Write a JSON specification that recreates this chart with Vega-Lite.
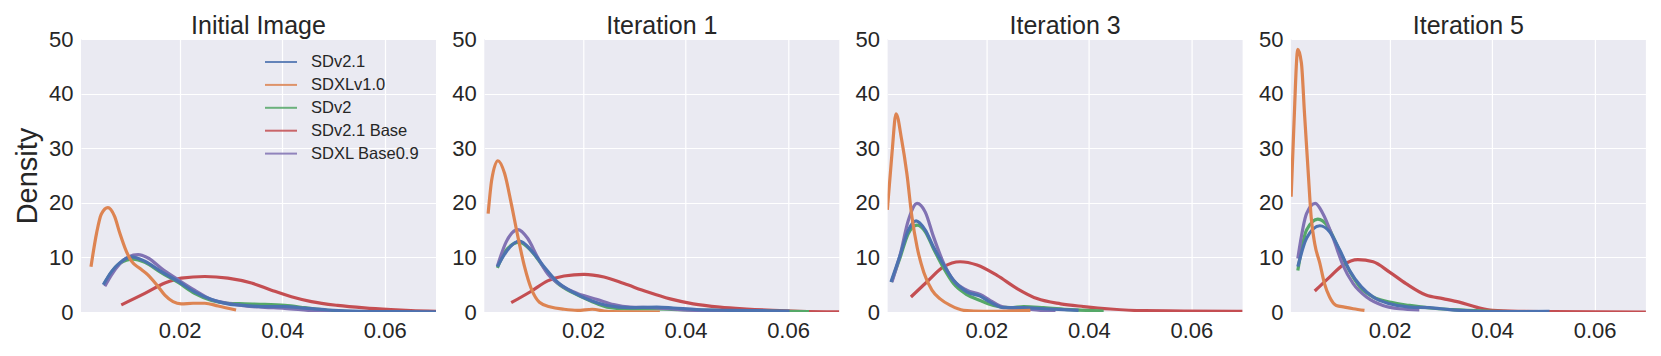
{
"$schema":"https://vega.github.io/schema/vega-lite/v6.json",
"padding":{"left":13,"top":13,"right":0,"bottom":0},
"bounds":"flush",
"spacing":48.3,
"background":"white",
"data":{"values":[
{"p":"Initial Image","s":"SDv2.1 Base","x":0.0086,"y":1.3},{"p":"Initial Image","s":"SDv2.1 Base","x":0.0132,"y":3.4},{"p":"Initial Image","s":"SDv2.1 Base","x":0.0171,"y":5.3},{"p":"Initial Image","s":"SDv2.1 Base","x":0.0203,"y":6.2},{"p":"Initial Image","s":"SDv2.1 Base","x":0.0249,"y":6.5},{"p":"Initial Image","s":"SDv2.1 Base","x":0.0294,"y":6.2},{"p":"Initial Image","s":"SDv2.1 Base","x":0.034,"y":5.3},{"p":"Initial Image","s":"SDv2.1 Base","x":0.0379,"y":4.0},{"p":"Initial Image","s":"SDv2.1 Base","x":0.0418,"y":2.8},{"p":"Initial Image","s":"SDv2.1 Base","x":0.0457,"y":1.9},{"p":"Initial Image","s":"SDv2.1 Base","x":0.0508,"y":1.2},{"p":"Initial Image","s":"SDv2.1 Base","x":0.056,"y":0.74},{"p":"Initial Image","s":"SDv2.1 Base","x":0.0612,"y":0.43},{"p":"Initial Image","s":"SDv2.1 Base","x":0.0651,"y":0.25},{"p":"Initial Image","s":"SDv2.1 Base","x":0.07,"y":0.12},
{"p":"Initial Image","s":"SDv2","x":0.0053,"y":5.2},{"p":"Initial Image","s":"SDv2","x":0.0067,"y":7.3},{"p":"Initial Image","s":"SDv2","x":0.0083,"y":8.9},{"p":"Initial Image","s":"SDv2","x":0.0109,"y":9.7},{"p":"Initial Image","s":"SDv2","x":0.0132,"y":9.1},{"p":"Initial Image","s":"SDv2","x":0.0164,"y":7.2},{"p":"Initial Image","s":"SDv2","x":0.0197,"y":5.4},{"p":"Initial Image","s":"SDv2","x":0.0229,"y":3.4},{"p":"Initial Image","s":"SDv2","x":0.0262,"y":2.1},{"p":"Initial Image","s":"SDv2","x":0.0294,"y":1.6},{"p":"Initial Image","s":"SDv2","x":0.0327,"y":1.5},{"p":"Initial Image","s":"SDv2","x":0.0366,"y":1.4},{"p":"Initial Image","s":"SDv2","x":0.0405,"y":1.2},{"p":"Initial Image","s":"SDv2","x":0.0444,"y":0.8},{"p":"Initial Image","s":"SDv2","x":0.0483,"y":0.37},{"p":"Initial Image","s":"SDv2","x":0.0523,"y":0.12},{"p":"Initial Image","s":"SDv2","x":0.058,"y":0.03},
{"p":"Initial Image","s":"SDXL Base0.9","x":0.0054,"y":4.7},{"p":"Initial Image","s":"SDXL Base0.9","x":0.0067,"y":6.8},{"p":"Initial Image","s":"SDXL Base0.9","x":0.0083,"y":8.8},{"p":"Initial Image","s":"SDXL Base0.9","x":0.01,"y":10.1},{"p":"Initial Image","s":"SDXL Base0.9","x":0.0119,"y":10.5},{"p":"Initial Image","s":"SDXL Base0.9","x":0.014,"y":9.8},{"p":"Initial Image","s":"SDXL Base0.9","x":0.0164,"y":8.0},{"p":"Initial Image","s":"SDXL Base0.9","x":0.0197,"y":5.9},{"p":"Initial Image","s":"SDXL Base0.9","x":0.0229,"y":4.0},{"p":"Initial Image","s":"SDXL Base0.9","x":0.0262,"y":2.3},{"p":"Initial Image","s":"SDXL Base0.9","x":0.0294,"y":1.6},{"p":"Initial Image","s":"SDXL Base0.9","x":0.0327,"y":1.1},{"p":"Initial Image","s":"SDXL Base0.9","x":0.0366,"y":0.86},{"p":"Initial Image","s":"SDXL Base0.9","x":0.0405,"y":0.67},{"p":"Initial Image","s":"SDXL Base0.9","x":0.0457,"y":0.25},{"p":"Initial Image","s":"SDXL Base0.9","x":0.0496,"y":0.06},
{"p":"Initial Image","s":"SDv2.1","x":0.0051,"y":5.0},{"p":"Initial Image","s":"SDv2.1","x":0.0067,"y":7.4},{"p":"Initial Image","s":"SDv2.1","x":0.0083,"y":9.0},{"p":"Initial Image","s":"SDv2.1","x":0.0106,"y":10.1},{"p":"Initial Image","s":"SDv2.1","x":0.0132,"y":9.3},{"p":"Initial Image","s":"SDv2.1","x":0.0164,"y":7.4},{"p":"Initial Image","s":"SDv2.1","x":0.0197,"y":5.6},{"p":"Initial Image","s":"SDv2.1","x":0.0229,"y":3.7},{"p":"Initial Image","s":"SDv2.1","x":0.0262,"y":2.3},{"p":"Initial Image","s":"SDv2.1","x":0.0294,"y":1.5},{"p":"Initial Image","s":"SDv2.1","x":0.0327,"y":1.2},{"p":"Initial Image","s":"SDv2.1","x":0.0359,"y":1.0},{"p":"Initial Image","s":"SDv2.1","x":0.0405,"y":1.0},{"p":"Initial Image","s":"SDv2.1","x":0.0444,"y":0.7},{"p":"Initial Image","s":"SDv2.1","x":0.0489,"y":0.37},{"p":"Initial Image","s":"SDv2.1","x":0.0554,"y":0.12},{"p":"Initial Image","s":"SDv2.1","x":0.0619,"y":0.06},{"p":"Initial Image","s":"SDv2.1","x":0.07,"y":0.02},
{"p":"Initial Image","s":"SDXLv1.0","x":0.0027,"y":8.3},{"p":"Initial Image","s":"SDXLv1.0","x":0.0038,"y":14.5},{"p":"Initial Image","s":"SDXLv1.0","x":0.0047,"y":17.9},{"p":"Initial Image","s":"SDXLv1.0","x":0.006,"y":19.1},{"p":"Initial Image","s":"SDXLv1.0","x":0.0073,"y":17.5},{"p":"Initial Image","s":"SDXLv1.0","x":0.0083,"y":14.5},{"p":"Initial Image","s":"SDXLv1.0","x":0.0096,"y":11.1},{"p":"Initial Image","s":"SDXLv1.0","x":0.0106,"y":9.3},{"p":"Initial Image","s":"SDXLv1.0","x":0.0122,"y":8.0},{"p":"Initial Image","s":"SDXLv1.0","x":0.0138,"y":6.8},{"p":"Initial Image","s":"SDXLv1.0","x":0.0155,"y":5.0},{"p":"Initial Image","s":"SDXLv1.0","x":0.0171,"y":3.1},{"p":"Initial Image","s":"SDXLv1.0","x":0.0187,"y":1.9},{"p":"Initial Image","s":"SDXLv1.0","x":0.0203,"y":1.5},{"p":"Initial Image","s":"SDXLv1.0","x":0.0226,"y":1.6},{"p":"Initial Image","s":"SDXLv1.0","x":0.0249,"y":1.6},{"p":"Initial Image","s":"SDXLv1.0","x":0.0275,"y":1.1},{"p":"Initial Image","s":"SDXLv1.0","x":0.031,"y":0.37},

{"p":"Iteration 1","s":"SDv2.1 Base","x":0.006,"y":1.7},{"p":"Iteration 1","s":"SDv2.1 Base","x":0.0099,"y":3.8},{"p":"Iteration 1","s":"SDv2.1 Base","x":0.0131,"y":5.7},{"p":"Iteration 1","s":"SDv2.1 Base","x":0.0163,"y":6.6},{"p":"Iteration 1","s":"SDv2.1 Base","x":0.0202,"y":6.9},{"p":"Iteration 1","s":"SDv2.1 Base","x":0.0241,"y":6.4},{"p":"Iteration 1","s":"SDv2.1 Base","x":0.028,"y":5.2},{"p":"Iteration 1","s":"SDv2.1 Base","x":0.0325,"y":3.7},{"p":"Iteration 1","s":"SDv2.1 Base","x":0.037,"y":2.4},{"p":"Iteration 1","s":"SDv2.1 Base","x":0.0415,"y":1.5},{"p":"Iteration 1","s":"SDv2.1 Base","x":0.0467,"y":0.9},{"p":"Iteration 1","s":"SDv2.1 Base","x":0.0519,"y":0.55},{"p":"Iteration 1","s":"SDv2.1 Base","x":0.057,"y":0.3},{"p":"Iteration 1","s":"SDv2.1 Base","x":0.0622,"y":0.12},{"p":"Iteration 1","s":"SDv2.1 Base","x":0.07,"y":0.02},
{"p":"Iteration 1","s":"SDv2","x":0.0033,"y":8.1},{"p":"Iteration 1","s":"SDv2","x":0.005,"y":11.3},{"p":"Iteration 1","s":"SDv2","x":0.0076,"y":12.8},{"p":"Iteration 1","s":"SDv2","x":0.0099,"y":11.2},{"p":"Iteration 1","s":"SDv2","x":0.0124,"y":8.1},{"p":"Iteration 1","s":"SDv2","x":0.015,"y":5.3},{"p":"Iteration 1","s":"SDv2","x":0.0183,"y":3.4},{"p":"Iteration 1","s":"SDv2","x":0.0215,"y":2.0},{"p":"Iteration 1","s":"SDv2","x":0.0247,"y":0.9},{"p":"Iteration 1","s":"SDv2","x":0.0292,"y":0.55},{"p":"Iteration 1","s":"SDv2","x":0.0344,"y":0.55},{"p":"Iteration 1","s":"SDv2","x":0.039,"y":0.43},{"p":"Iteration 1","s":"SDv2","x":0.0454,"y":0.3},{"p":"Iteration 1","s":"SDv2","x":0.0519,"y":0.18},{"p":"Iteration 1","s":"SDv2","x":0.0583,"y":0.12},{"p":"Iteration 1","s":"SDv2","x":0.0641,"y":0.06},
{"p":"Iteration 1","s":"SDXL Base0.9","x":0.0033,"y":8.4},{"p":"Iteration 1","s":"SDXL Base0.9","x":0.005,"y":12.8},{"p":"Iteration 1","s":"SDXL Base0.9","x":0.0073,"y":15.1},{"p":"Iteration 1","s":"SDXL Base0.9","x":0.0092,"y":13.5},{"p":"Iteration 1","s":"SDXL Base0.9","x":0.0111,"y":10.1},{"p":"Iteration 1","s":"SDXL Base0.9","x":0.0131,"y":7.0},{"p":"Iteration 1","s":"SDXL Base0.9","x":0.0157,"y":4.9},{"p":"Iteration 1","s":"SDXL Base0.9","x":0.0189,"y":3.4},{"p":"Iteration 1","s":"SDXL Base0.9","x":0.0228,"y":2.3},{"p":"Iteration 1","s":"SDXL Base0.9","x":0.026,"y":1.35},{"p":"Iteration 1","s":"SDXL Base0.9","x":0.0292,"y":0.9},{"p":"Iteration 1","s":"SDXL Base0.9","x":0.0338,"y":0.8},{"p":"Iteration 1","s":"SDXL Base0.9","x":0.0389,"y":0.43},{"p":"Iteration 1","s":"SDXL Base0.9","x":0.0454,"y":0.18},{"p":"Iteration 1","s":"SDXL Base0.9","x":0.0519,"y":0.06},
{"p":"Iteration 1","s":"SDv2.1","x":0.0033,"y":8.3},{"p":"Iteration 1","s":"SDv2.1","x":0.005,"y":11.0},{"p":"Iteration 1","s":"SDv2.1","x":0.0076,"y":13.0},{"p":"Iteration 1","s":"SDv2.1","x":0.0099,"y":11.3},{"p":"Iteration 1","s":"SDv2.1","x":0.0124,"y":8.3},{"p":"Iteration 1","s":"SDv2.1","x":0.015,"y":5.5},{"p":"Iteration 1","s":"SDv2.1","x":0.0183,"y":3.5},{"p":"Iteration 1","s":"SDv2.1","x":0.0215,"y":2.1},{"p":"Iteration 1","s":"SDv2.1","x":0.0247,"y":1.2},{"p":"Iteration 1","s":"SDv2.1","x":0.0292,"y":0.8},{"p":"Iteration 1","s":"SDv2.1","x":0.0344,"y":0.9},{"p":"Iteration 1","s":"SDv2.1","x":0.0376,"y":0.73},{"p":"Iteration 1","s":"SDv2.1","x":0.0422,"y":0.43},{"p":"Iteration 1","s":"SDv2.1","x":0.0486,"y":0.3},{"p":"Iteration 1","s":"SDv2.1","x":0.0551,"y":0.24},{"p":"Iteration 1","s":"SDv2.1","x":0.0603,"y":0.18},
{"p":"Iteration 1","s":"SDXLv1.0","x":0.0015,"y":18.0},{"p":"Iteration 1","s":"SDXLv1.0","x":0.0022,"y":24.2},{"p":"Iteration 1","s":"SDXLv1.0","x":0.0034,"y":27.7},{"p":"Iteration 1","s":"SDXLv1.0","x":0.0047,"y":25.4},{"p":"Iteration 1","s":"SDXLv1.0","x":0.006,"y":19.9},{"p":"Iteration 1","s":"SDXLv1.0","x":0.0073,"y":13.8},{"p":"Iteration 1","s":"SDXLv1.0","x":0.0086,"y":8.3},{"p":"Iteration 1","s":"SDXLv1.0","x":0.0099,"y":4.3},{"p":"Iteration 1","s":"SDXLv1.0","x":0.0115,"y":1.8},{"p":"Iteration 1","s":"SDXLv1.0","x":0.0137,"y":0.9},{"p":"Iteration 1","s":"SDXLv1.0","x":0.0163,"y":0.5},{"p":"Iteration 1","s":"SDXLv1.0","x":0.0189,"y":0.3},{"p":"Iteration 1","s":"SDXLv1.0","x":0.0218,"y":0.5},{"p":"Iteration 1","s":"SDXLv1.0","x":0.0247,"y":0.12},{"p":"Iteration 1","s":"SDXLv1.0","x":0.0292,"y":0.02},{"p":"Iteration 1","s":"SDXLv1.0","x":0.035,"y":0.0},

{"p":"Iteration 3","s":"SDv2.1 Base","x":0.0053,"y":2.75},{"p":"Iteration 3","s":"SDv2.1 Base","x":0.0084,"y":5.5},{"p":"Iteration 3","s":"SDv2.1 Base","x":0.0117,"y":8.3},{"p":"Iteration 3","s":"SDv2.1 Base","x":0.0149,"y":9.2},{"p":"Iteration 3","s":"SDv2.1 Base","x":0.0182,"y":8.6},{"p":"Iteration 3","s":"SDv2.1 Base","x":0.0221,"y":6.7},{"p":"Iteration 3","s":"SDv2.1 Base","x":0.026,"y":4.3},{"p":"Iteration 3","s":"SDv2.1 Base","x":0.0299,"y":2.45},{"p":"Iteration 3","s":"SDv2.1 Base","x":0.0345,"y":1.5},{"p":"Iteration 3","s":"SDv2.1 Base","x":0.039,"y":1.0},{"p":"Iteration 3","s":"SDv2.1 Base","x":0.0442,"y":0.55},{"p":"Iteration 3","s":"SDv2.1 Base","x":0.0508,"y":0.24},{"p":"Iteration 3","s":"SDv2.1 Base","x":0.0586,"y":0.18},{"p":"Iteration 3","s":"SDv2.1 Base","x":0.07,"y":0.12},
{"p":"Iteration 3","s":"SDv2","x":0.0015,"y":5.5},{"p":"Iteration 3","s":"SDv2","x":0.0032,"y":10.0},{"p":"Iteration 3","s":"SDv2","x":0.0048,"y":14.4},{"p":"Iteration 3","s":"SDv2","x":0.0065,"y":15.9},{"p":"Iteration 3","s":"SDv2","x":0.0081,"y":14.7},{"p":"Iteration 3","s":"SDv2","x":0.0097,"y":11.6},{"p":"Iteration 3","s":"SDv2","x":0.0117,"y":8.0},{"p":"Iteration 3","s":"SDv2","x":0.0136,"y":5.2},{"p":"Iteration 3","s":"SDv2","x":0.0162,"y":3.2},{"p":"Iteration 3","s":"SDv2","x":0.0188,"y":2.1},{"p":"Iteration 3","s":"SDv2","x":0.0214,"y":1.2},{"p":"Iteration 3","s":"SDv2","x":0.0247,"y":0.8},{"p":"Iteration 3","s":"SDv2","x":0.0273,"y":1.0},{"p":"Iteration 3","s":"SDv2","x":0.0312,"y":0.8},{"p":"Iteration 3","s":"SDv2","x":0.0364,"y":0.43},{"p":"Iteration 3","s":"SDv2","x":0.0429,"y":0.18},
{"p":"Iteration 3","s":"SDXL Base0.9","x":0.0016,"y":5.5},{"p":"Iteration 3","s":"SDXL Base0.9","x":0.0032,"y":10.5},{"p":"Iteration 3","s":"SDXL Base0.9","x":0.0048,"y":16.8},{"p":"Iteration 3","s":"SDXL Base0.9","x":0.0065,"y":19.9},{"p":"Iteration 3","s":"SDXL Base0.9","x":0.0081,"y":18.3},{"p":"Iteration 3","s":"SDXL Base0.9","x":0.0097,"y":13.8},{"p":"Iteration 3","s":"SDXL Base0.9","x":0.0117,"y":8.9},{"p":"Iteration 3","s":"SDXL Base0.9","x":0.0136,"y":5.8},{"p":"Iteration 3","s":"SDXL Base0.9","x":0.0162,"y":4.0},{"p":"Iteration 3","s":"SDXL Base0.9","x":0.0188,"y":3.2},{"p":"Iteration 3","s":"SDXL Base0.9","x":0.0208,"y":2.1},{"p":"Iteration 3","s":"SDXL Base0.9","x":0.0234,"y":0.9},{"p":"Iteration 3","s":"SDXL Base0.9","x":0.0273,"y":0.6},{"p":"Iteration 3","s":"SDXL Base0.9","x":0.0306,"y":0.3},{"p":"Iteration 3","s":"SDXL Base0.9","x":0.0335,"y":0.1},
{"p":"Iteration 3","s":"SDv2.1","x":0.0014,"y":5.5},{"p":"Iteration 3","s":"SDv2.1","x":0.0032,"y":10.4},{"p":"Iteration 3","s":"SDv2.1","x":0.0048,"y":15.0},{"p":"Iteration 3","s":"SDv2.1","x":0.0063,"y":16.7},{"p":"Iteration 3","s":"SDv2.1","x":0.0081,"y":15.0},{"p":"Iteration 3","s":"SDv2.1","x":0.0097,"y":11.9},{"p":"Iteration 3","s":"SDv2.1","x":0.0117,"y":8.6},{"p":"Iteration 3","s":"SDv2.1","x":0.0136,"y":5.8},{"p":"Iteration 3","s":"SDv2.1","x":0.0162,"y":3.7},{"p":"Iteration 3","s":"SDv2.1","x":0.0188,"y":2.9},{"p":"Iteration 3","s":"SDv2.1","x":0.0208,"y":1.8},{"p":"Iteration 3","s":"SDv2.1","x":0.0234,"y":0.8},{"p":"Iteration 3","s":"SDv2.1","x":0.0273,"y":0.8},{"p":"Iteration 3","s":"SDv2.1","x":0.0312,"y":0.6},{"p":"Iteration 3","s":"SDv2.1","x":0.038,"y":0.3},
{"p":"Iteration 3","s":"SDXLv1.0","x":0.0007,"y":18.7},{"p":"Iteration 3","s":"SDXLv1.0","x":0.0016,"y":29.0},{"p":"Iteration 3","s":"SDXLv1.0","x":0.0024,"y":36.3},{"p":"Iteration 3","s":"SDXLv1.0","x":0.0035,"y":31.5},{"p":"Iteration 3","s":"SDXLv1.0","x":0.0045,"y":25.4},{"p":"Iteration 3","s":"SDXLv1.0","x":0.0055,"y":17.4},{"p":"Iteration 3","s":"SDXLv1.0","x":0.0065,"y":11.9},{"p":"Iteration 3","s":"SDXLv1.0","x":0.0078,"y":7.3},{"p":"Iteration 3","s":"SDXLv1.0","x":0.0094,"y":4.0},{"p":"Iteration 3","s":"SDXLv1.0","x":0.011,"y":2.4},{"p":"Iteration 3","s":"SDXLv1.0","x":0.013,"y":1.2},{"p":"Iteration 3","s":"SDXLv1.0","x":0.0156,"y":0.3},{"p":"Iteration 3","s":"SDXLv1.0","x":0.0195,"y":0.12},{"p":"Iteration 3","s":"SDXLv1.0","x":0.0286,"y":0.3},

{"p":"Iteration 5","s":"SDv2.1 Base","x":0.0054,"y":3.85},{"p":"Iteration 5","s":"SDv2.1 Base","x":0.0083,"y":6.4},{"p":"Iteration 5","s":"SDv2.1 Base","x":0.0109,"y":8.6},{"p":"Iteration 5","s":"SDv2.1 Base","x":0.0138,"y":9.6},{"p":"Iteration 5","s":"SDv2.1 Base","x":0.0168,"y":9.2},{"p":"Iteration 5","s":"SDv2.1 Base","x":0.02,"y":7.3},{"p":"Iteration 5","s":"SDv2.1 Base","x":0.0232,"y":5.2},{"p":"Iteration 5","s":"SDv2.1 Base","x":0.0271,"y":3.1},{"p":"Iteration 5","s":"SDv2.1 Base","x":0.0304,"y":2.45},{"p":"Iteration 5","s":"SDv2.1 Base","x":0.0336,"y":1.8},{"p":"Iteration 5","s":"SDv2.1 Base","x":0.0369,"y":0.9},{"p":"Iteration 5","s":"SDv2.1 Base","x":0.0401,"y":0.3},{"p":"Iteration 5","s":"SDv2.1 Base","x":0.0453,"y":0.12},{"p":"Iteration 5","s":"SDv2.1 Base","x":0.0518,"y":0.06},{"p":"Iteration 5","s":"SDv2.1 Base","x":0.07,"y":0.0},
{"p":"Iteration 5","s":"SDv2","x":0.0021,"y":7.6},{"p":"Iteration 5","s":"SDv2","x":0.0038,"y":15.0},{"p":"Iteration 5","s":"SDv2","x":0.006,"y":17.0},{"p":"Iteration 5","s":"SDv2","x":0.008,"y":15.6},{"p":"Iteration 5","s":"SDv2","x":0.0099,"y":11.9},{"p":"Iteration 5","s":"SDv2","x":0.0119,"y":8.0},{"p":"Iteration 5","s":"SDv2","x":0.0142,"y":4.6},{"p":"Iteration 5","s":"SDv2","x":0.0168,"y":2.75},{"p":"Iteration 5","s":"SDv2","x":0.02,"y":1.8},{"p":"Iteration 5","s":"SDv2","x":0.0239,"y":1.2},{"p":"Iteration 5","s":"SDv2","x":0.0278,"y":0.73},{"p":"Iteration 5","s":"SDv2","x":0.0323,"y":0.43},{"p":"Iteration 5","s":"SDv2","x":0.0388,"y":0.18},{"p":"Iteration 5","s":"SDv2","x":0.0453,"y":0.06},
{"p":"Iteration 5","s":"SDXL Base0.9","x":0.0021,"y":9.8},{"p":"Iteration 5","s":"SDXL Base0.9","x":0.0038,"y":18.0},{"p":"Iteration 5","s":"SDXL Base0.9","x":0.0055,"y":19.9},{"p":"Iteration 5","s":"SDXL Base0.9","x":0.007,"y":18.0},{"p":"Iteration 5","s":"SDXL Base0.9","x":0.009,"y":13.5},{"p":"Iteration 5","s":"SDXL Base0.9","x":0.0109,"y":8.6},{"p":"Iteration 5","s":"SDXL Base0.9","x":0.0129,"y":5.2},{"p":"Iteration 5","s":"SDXL Base0.9","x":0.0155,"y":2.75},{"p":"Iteration 5","s":"SDXL Base0.9","x":0.0187,"y":1.2},{"p":"Iteration 5","s":"SDXL Base0.9","x":0.0219,"y":0.6},{"p":"Iteration 5","s":"SDXL Base0.9","x":0.0258,"y":0.4},
{"p":"Iteration 5","s":"SDv2.1","x":0.0021,"y":8.3},{"p":"Iteration 5","s":"SDv2.1","x":0.0038,"y":13.5},{"p":"Iteration 5","s":"SDv2.1","x":0.0064,"y":15.8},{"p":"Iteration 5","s":"SDv2.1","x":0.0083,"y":14.7},{"p":"Iteration 5","s":"SDv2.1","x":0.0103,"y":11.3},{"p":"Iteration 5","s":"SDv2.1","x":0.0122,"y":7.6},{"p":"Iteration 5","s":"SDv2.1","x":0.0145,"y":4.6},{"p":"Iteration 5","s":"SDv2.1","x":0.0168,"y":2.75},{"p":"Iteration 5","s":"SDv2.1","x":0.02,"y":1.5},{"p":"Iteration 5","s":"SDv2.1","x":0.0239,"y":0.9},{"p":"Iteration 5","s":"SDv2.1","x":0.0278,"y":0.8},{"p":"Iteration 5","s":"SDv2.1","x":0.0317,"y":0.43},{"p":"Iteration 5","s":"SDv2.1","x":0.0362,"y":0.18},{"p":"Iteration 5","s":"SDv2.1","x":0.0421,"y":0.06},{"p":"Iteration 5","s":"SDv2.1","x":0.0512,"y":0.12},
{"p":"Iteration 5","s":"SDXLv1.0","x":0.0008,"y":21.1},{"p":"Iteration 5","s":"SDXLv1.0","x":0.0013,"y":33.3},{"p":"Iteration 5","s":"SDXLv1.0","x":0.0021,"y":48.1},{"p":"Iteration 5","s":"SDXLv1.0","x":0.0028,"y":45.6},{"p":"Iteration 5","s":"SDXLv1.0","x":0.0034,"y":36.4},{"p":"Iteration 5","s":"SDXLv1.0","x":0.0041,"y":26.0},{"p":"Iteration 5","s":"SDXLv1.0","x":0.0047,"y":17.4},{"p":"Iteration 5","s":"SDXLv1.0","x":0.0054,"y":12.5},{"p":"Iteration 5","s":"SDXLv1.0","x":0.0064,"y":8.9},{"p":"Iteration 5","s":"SDXLv1.0","x":0.0073,"y":5.2},{"p":"Iteration 5","s":"SDXLv1.0","x":0.0083,"y":2.75},{"p":"Iteration 5","s":"SDXLv1.0","x":0.0096,"y":1.2},{"p":"Iteration 5","s":"SDXLv1.0","x":0.0112,"y":0.9},{"p":"Iteration 5","s":"SDXLv1.0","x":0.0129,"y":0.6},{"p":"Iteration 5","s":"SDXLv1.0","x":0.0151,"y":0.3}
]},
"hconcat":[
{"width":355,"height":273,"title":"Initial Image","transform":[{"filter":"datum.p==='Initial Image'"}],
 "mark":{"type":"line","strokeWidth":3.2,"interpolate":"monotone","clip":true},
 "encoding":{
  "x":{"field":"x","type":"quantitative","scale":{"domain":[0.00075,0.07],"nice":false,"zero":false},"axis":{"values":[0.02,0.04,0.06],"format":".2f","title":null}},
  "y":{"field":"y","type":"quantitative","scale":{"domain":[0,50],"nice":false},"axis":{"values":[0,10,20,30,40,50],"title":"Density"}},
  "color":{"field":"s","type":"nominal","sort":null,"scale":{"domain":["SDv2.1","SDXLv1.0","SDv2","SDv2.1 Base","SDXL Base0.9"],"range":["#4C72B0","#DD8452","#55A868","#C44E52","#8172B3"]}}}},
{"width":355,"height":273,"title":"Iteration 1","transform":[{"filter":"datum.p==='Iteration 1'"}],
 "mark":{"type":"line","strokeWidth":3.2,"interpolate":"monotone","clip":true},
 "encoding":{
  "x":{"field":"x","type":"quantitative","scale":{"domain":[0.00075,0.07],"nice":false,"zero":false},"axis":{"values":[0.02,0.04,0.06],"format":".2f","title":null}},
  "y":{"field":"y","type":"quantitative","scale":{"domain":[0,50],"nice":false},"axis":{"values":[0,10,20,30,40,50],"title":null}},
  "color":{"field":"s","type":"nominal","sort":null,"scale":{"domain":["SDv2.1","SDXLv1.0","SDv2","SDv2.1 Base","SDXL Base0.9"],"range":["#4C72B0","#DD8452","#55A868","#C44E52","#8172B3"]}}}},
{"width":355,"height":273,"title":"Iteration 3","transform":[{"filter":"datum.p==='Iteration 3'"}],
 "mark":{"type":"line","strokeWidth":3.2,"interpolate":"monotone","clip":true},
 "encoding":{
  "x":{"field":"x","type":"quantitative","scale":{"domain":[0.00075,0.07],"nice":false,"zero":false},"axis":{"values":[0.02,0.04,0.06],"format":".2f","title":null}},
  "y":{"field":"y","type":"quantitative","scale":{"domain":[0,50],"nice":false},"axis":{"values":[0,10,20,30,40,50],"title":null}},
  "color":{"field":"s","type":"nominal","sort":null,"scale":{"domain":["SDv2.1","SDXLv1.0","SDv2","SDv2.1 Base","SDXL Base0.9"],"range":["#4C72B0","#DD8452","#55A868","#C44E52","#8172B3"]}}}},
{"width":355,"height":273,"title":"Iteration 5","transform":[{"filter":"datum.p==='Iteration 5'"}],
 "mark":{"type":"line","strokeWidth":3.2,"interpolate":"monotone","clip":true},
 "encoding":{
  "x":{"field":"x","type":"quantitative","scale":{"domain":[0.00075,0.07],"nice":false,"zero":false},"axis":{"values":[0.02,0.04,0.06],"format":".2f","title":null}},
  "y":{"field":"y","type":"quantitative","scale":{"domain":[0,50],"nice":false},"axis":{"values":[0,10,20,30,40,50],"title":null}},
  "color":{"field":"s","type":"nominal","sort":null,"scale":{"domain":["SDv2.1","SDXLv1.0","SDv2","SDv2.1 Base","SDXL Base0.9"],"range":["#4C72B0","#DD8452","#55A868","#C44E52","#8172B3"]}}}}
],
"resolve":{"scale":{"color":"shared"},"legend":{"color":"shared"}},
"config":{
 "font":"Liberation Sans",
 "view":{"fill":"#EAEAF2","stroke":null},
 "axis":{"grid":true,"gridColor":"#FFFFFF","gridWidth":1.2,"gridOpacity":1,"domain":false,"ticks":false,"tickSize":0,"labelFont":"Liberation Sans","labelFontSize":22,"labelColor":"#262626","titleFont":"Liberation Sans","titleFontSize":29,"titleFontWeight":"normal","titleColor":"#262626","titlePadding":6},
 "axisX":{"labelPadding":8.6},
 "axisY":{"labelPadding":8},
 "title":{"font":"Liberation Sans","fontSize":25,"fontWeight":"normal","color":"#262626","offset":-10.7,"baseline":"alphabetic","anchor":"middle"},
 "legend":{"orient":"none","legendX":191,"legendY":14,"title":null,"labelFont":"Liberation Sans","labelFontSize":16.5,"labelColor":"#262626","labelOffset":21,"symbolType":"M-2,0H2","symbolSize":256,"symbolStrokeWidth":2,"symbolOpacity":0.85,"rowPadding":4.9}
}
}
